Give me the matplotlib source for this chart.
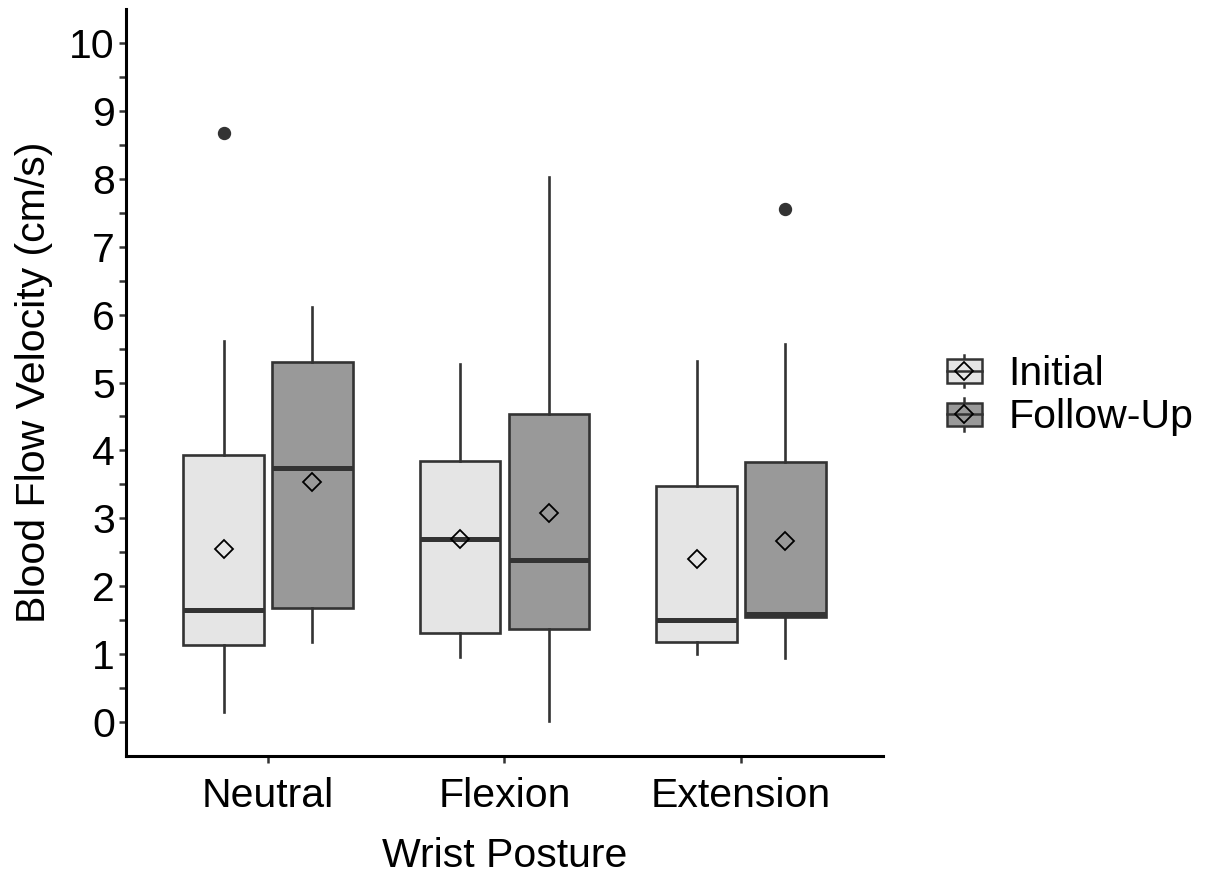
import numpy as np
import matplotlib.pyplot as plt
from matplotlib.legend_handler import HandlerBase
from matplotlib.patches import Rectangle
from matplotlib.lines import Line2D
from matplotlib.ticker import FixedLocator

plt.rcParams['font.family'] = ['Liberation Sans', 'DejaVu Sans']

# Datos: resumen de cada caja (velocidad en cm/s)
posturas = ["Neutral", "Flexion", "Extension"]
grupos = ["Initial", "Follow-Up"]

# orden: Neutral, Flexion, Extension
initial_whislo = [0.15, 0.96, 1.00]
initial_q1 = [1.13, 1.31, 1.18]
initial_med = [1.65, 2.70, 1.50]
initial_q3 = [3.93, 3.85, 3.47]
initial_whishi = [5.61, 5.27, 5.32]
initial_mean = [2.55, 2.70, 2.40]
initial_fliers = [[8.67], [], []]

follow_whislo = [1.18, 0.02, 0.95]
follow_q1 = [1.68, 1.37, 1.55]
follow_med = [3.74, 2.38, 1.59]
follow_q3 = [5.30, 4.54, 3.83]
follow_whishi = [6.11, 8.03, 5.56]
follow_mean = [3.53, 3.08, 2.67]
follow_fliers = [[], [], [7.56]]

colores = ["#E5E5E5", "#999999"]
borde = "#333333"


def stats(whislo, q1, med, q3, whishi, mean, fliers):
    return [dict(whislo=a, q1=b, med=c, q3=d, whishi=e, mean=f, fliers=g)
            for a, b, c, d, e, f, g in zip(whislo, q1, med, q3, whishi, mean, fliers)]


datos = [
    stats(initial_whislo, initial_q1, initial_med, initial_q3, initial_whishi, initial_mean, initial_fliers),
    stats(follow_whislo, follow_q1, follow_med, follow_q3, follow_whishi, follow_mean, follow_fliers),
]


# Clave de leyenda con forma de caja (como en ggplot)
class HandlerCaja(HandlerBase):
    def __init__(self, color):
        super().__init__()
        self.color = color

    def create_artists(self, legend, orig_handle, xdescent, ydescent, width, height, fontsize, trans):
        x0, y0 = -xdescent, -ydescent
        cx = x0 + width / 2
        cy = y0 + height / 2
        bh = height * 0.72
        bigote = Line2D([cx, cx], [y0, y0 + height], color=borde, lw=1.8, transform=trans)
        caja = Rectangle((x0, cy - bh / 2), width, bh, facecolor=self.color, edgecolor=borde, lw=1.8, transform=trans)
        mediana = Line2D([x0, x0 + width], [cy, cy], color=borde, lw=1.8, transform=trans)
        media = Line2D([cx], [cy], marker="D", markersize=9, markerfacecolor="none",
                       markeredgecolor="black", markeredgewidth=1.3, transform=trans)
        return [bigote, caja, mediana, media]


fig = plt.figure(figsize=(12.13, 8.75), dpi=100)
ax = fig.add_axes([0.1039, 0.136, 0.624, 0.8537])

x = np.arange(1, len(posturas) + 1)
desplaz = [-0.1875, 0.1875]
for i in range(2):
    ax.bxp(datos[i], positions=x + desplaz[i], widths=0.34, patch_artist=True,
           showcaps=False, showmeans=True, manage_ticks=False,
           boxprops=dict(facecolor=colores[i], edgecolor=borde, linewidth=1.9),
           whiskerprops=dict(color=borde, linewidth=1.9),
           medianprops=dict(color=borde, linewidth=3.6, solid_capstyle="butt"),
           meanprops=dict(marker="D", markersize=9.2, markerfacecolor="none",
                          markeredgecolor="black", markeredgewidth=1.3),
           flierprops=dict(marker="o", markersize=8.6, markerfacecolor=borde,
                           markeredgecolor=borde))

ax.set_xlim(0.4, 3.6)
ax.set_ylim(-0.5, 10.5)
ax.set_xticks(x)
ax.set_xticklabels(posturas)
ax.set_yticks(np.arange(0, 11, 1))
ax.yaxis.set_minor_locator(FixedLocator(np.arange(0.5, 10, 1)))

for lado in ["top", "right"]:
    ax.spines[lado].set_visible(False)
for lado in ["left", "bottom"]:
    ax.spines[lado].set_linewidth(2.2)
    ax.spines[lado].set_color("black")

ax.tick_params(axis="both", which="both", length=5, width=1.8, color=borde,
               labelsize=29.5, labelcolor="black", pad=3)
ax.tick_params(axis="x", pad=10)

ax.set_xlabel("Wrist Posture", fontsize=29.5, labelpad=16)
ax.set_ylabel("Blood Flow Velocity (cm/s)", fontsize=29.5, labelpad=12)

handles = [Rectangle((0, 0), 1, 1), Rectangle((0, 0), 1, 1)]
fig.legend(handles, grupos, loc="center left", bbox_to_anchor=(0.757, 0.548),
           frameon=False, fontsize=29.5, handlelength=0.85, handleheight=0.85,
           handletextpad=0.65, labelspacing=0.12, borderpad=0.2,
           handler_map={handles[0]: HandlerCaja(colores[0]), handles[1]: HandlerCaja(colores[1])})

fig.savefig("out.png", dpi=100)
